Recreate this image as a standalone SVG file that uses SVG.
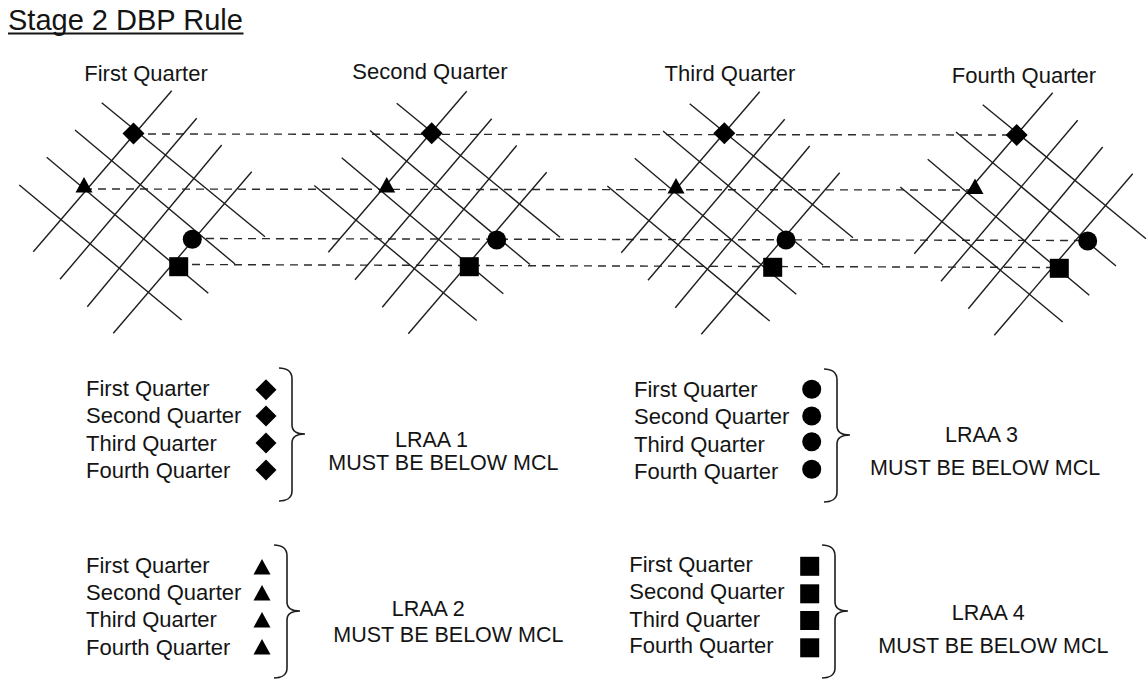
<svg xmlns="http://www.w3.org/2000/svg" width="1148" height="679" viewBox="0 0 1148 679">
<style>
  text { font-family: "Liberation Sans", Arial, sans-serif; fill: #141414; }
  .title { font-size: 29px; }
  .q { font-size: 22px; text-anchor: middle; }
  .lbl { font-size: 22px; }
  .res { font-size: 21.5px; }
  .gl { stroke: #1e1e1e; stroke-width: 1.4; fill: none; }
  .dash { stroke: #2a2a2a; stroke-width: 1.4; stroke-dasharray: 8 6; fill: none; }
  .brace { stroke: #1e1e1e; stroke-width: 1.6; fill: none; }
  .m { fill: #000; }
</style>
<defs>
  <g id="grid" class="gl">
    <line x1="33.3" y1="251.7" x2="171.7" y2="90.7"/>
    <line x1="60" y1="279.3" x2="196.7" y2="118.3"/>
    <line x1="87.3" y1="306.7" x2="221.7" y2="145"/>
    <line x1="113.3" y1="333.3" x2="251.7" y2="171.7"/>
    <line x1="101.7" y1="102.7" x2="265" y2="236.7"/>
    <line x1="75" y1="130" x2="235" y2="264"/>
    <line x1="46.7" y1="157.3" x2="208.3" y2="293.3"/>
    <line x1="19.3" y1="185" x2="181.7" y2="320"/>
  </g>
  <path id="dia" d="M0,-11 L11,0 L0,11 L-11,0 Z"/>
  <path id="ldia" d="M0,-10.5 L10.5,0 L0,10.5 L-10.5,0 Z"/>
  <path id="tri" d="M0,-9 L8.5,6.5 L-8.5,6.5 Z"/>
  <circle id="dot" r="9.5"/>
  <rect id="sq" x="-9.5" y="-9.5" width="19" height="19"/>
  <path id="brace" d="M-26,-66 C-19,-66 -13,-63 -13,-55 L-13,-9 C-13,-3 -8,0 0,0 C-8,0 -13,3 -13,9 L-13,57 C-13,64 -19,67 -26,67"/>
</defs>

<g id="title">
  <text class="title" x="8" y="29.5">Stage 2 DBP Rule</text>
  <line x1="8" y1="33.5" x2="243.5" y2="33.5" stroke="#141414" stroke-width="2"/>
</g>

<g id="connectors">
  <line class="dash" x1="134" y1="134" x2="1016" y2="135"/>
  <line class="dash" x1="84" y1="189" x2="975" y2="190"/>
  <line class="dash" x1="192" y1="238.5" x2="1087" y2="240.5"/>
  <line class="dash" x1="178" y1="264.5" x2="1059" y2="267.5"/>
</g>

<g id="quarter1">
  <text class="q" x="146" y="80.5">First Quarter</text>
  <use href="#grid"/>
  <use href="#dia" class="m" x="133.5" y="133.5"/>
  <use href="#tri" class="m" x="84" y="186"/>
  <use href="#dot" class="m" x="192.3" y="239.3"/>
  <use href="#sq" class="m" x="178.7" y="266.7"/>
</g>
<g id="quarter2">
  <text class="q" x="430" y="79">Second Quarter</text>
  <use href="#grid" transform="translate(295,0.5)"/>
  <use href="#dia" class="m" x="431.7" y="133.3"/>
  <use href="#tri" class="m" x="386.7" y="186"/>
  <use href="#dot" class="m" x="496.7" y="240"/>
  <use href="#sq" class="m" x="469.3" y="266.7"/>
</g>
<g id="quarter3">
  <text class="q" x="730" y="80.5">Third Quarter</text>
  <use href="#grid" transform="translate(588,1)"/>
  <use href="#dia" class="m" x="724.3" y="133.3"/>
  <use href="#tri" class="m" x="676" y="187"/>
  <use href="#dot" class="m" x="786" y="240"/>
  <use href="#sq" class="m" x="772.7" y="267.3"/>
</g>
<g id="quarter4">
  <text class="q" x="1024" y="82.5">Fourth Quarter</text>
  <use href="#grid" transform="translate(881,2)"/>
  <use href="#dia" class="m" x="1016.7" y="135"/>
  <use href="#tri" class="m" x="975" y="187.5"/>
  <use href="#dot" class="m" x="1087.7" y="241"/>
  <use href="#sq" class="m" x="1059.3" y="268.3"/>
</g>

<g id="lraa1">
  <text class="lbl" x="86" y="396">First Quarter</text>
  <text class="lbl" x="86" y="423.3">Second Quarter</text>
  <text class="lbl" x="86" y="450.7">Third Quarter</text>
  <text class="lbl" x="86" y="478.3">Fourth Quarter</text>
  <use href="#ldia" class="m" x="266" y="389.7"/>
  <use href="#ldia" class="m" x="266" y="416"/>
  <use href="#ldia" class="m" x="266" y="443"/>
  <use href="#ldia" class="m" x="266" y="470"/>
  <use href="#brace" class="brace" transform="translate(305,434)"/>
  <text class="res" x="395" y="447.3">LRAA 1</text>
  <text class="res" x="328.3" y="470">MUST BE BELOW MCL</text>
</g>

<g id="lraa3">
  <text class="lbl" x="634" y="397.3">First Quarter</text>
  <text class="lbl" x="634" y="424.3">Second Quarter</text>
  <text class="lbl" x="634" y="451.7">Third Quarter</text>
  <text class="lbl" x="634" y="479.3">Fourth Quarter</text>
  <use href="#dot" class="m" x="811.7" y="389.3"/>
  <use href="#dot" class="m" x="811.7" y="416"/>
  <use href="#dot" class="m" x="811.7" y="441.7"/>
  <use href="#dot" class="m" x="811.7" y="469.3"/>
  <use href="#brace" class="brace" transform="translate(850,435)"/>
  <text class="res" x="945" y="441.7">LRAA 3</text>
  <text class="res" x="870" y="475">MUST BE BELOW MCL</text>
</g>

<g id="lraa2">
  <text class="lbl" x="86" y="573.3">First Quarter</text>
  <text class="lbl" x="86" y="600">Second Quarter</text>
  <text class="lbl" x="86" y="627.3">Third Quarter</text>
  <text class="lbl" x="86" y="655">Fourth Quarter</text>
  <use href="#tri" class="m" x="262" y="568"/>
  <use href="#tri" class="m" x="262" y="594"/>
  <use href="#tri" class="m" x="262" y="621"/>
  <use href="#tri" class="m" x="262" y="648"/>
  <use href="#brace" class="brace" transform="translate(300,611)"/>
  <text class="res" x="391.7" y="616">LRAA 2</text>
  <text class="res" x="333.3" y="641.7">MUST BE BELOW MCL</text>
</g>

<g id="lraa4">
  <text class="lbl" x="629.3" y="571.7">First Quarter</text>
  <text class="lbl" x="629.3" y="599.3">Second Quarter</text>
  <text class="lbl" x="629.3" y="626.7">Third Quarter</text>
  <text class="lbl" x="629.3" y="653.3">Fourth Quarter</text>
  <use href="#sq" class="m" x="809.7" y="566.3"/>
  <use href="#sq" class="m" x="809.7" y="593.8"/>
  <use href="#sq" class="m" x="809.7" y="620.5"/>
  <use href="#sq" class="m" x="809.7" y="647.8"/>
  <use href="#brace" class="brace" transform="translate(848,611)"/>
  <text class="res" x="951.7" y="620">LRAA 4</text>
  <text class="res" x="878.3" y="653.3">MUST BE BELOW MCL</text>
</g>
</svg>
